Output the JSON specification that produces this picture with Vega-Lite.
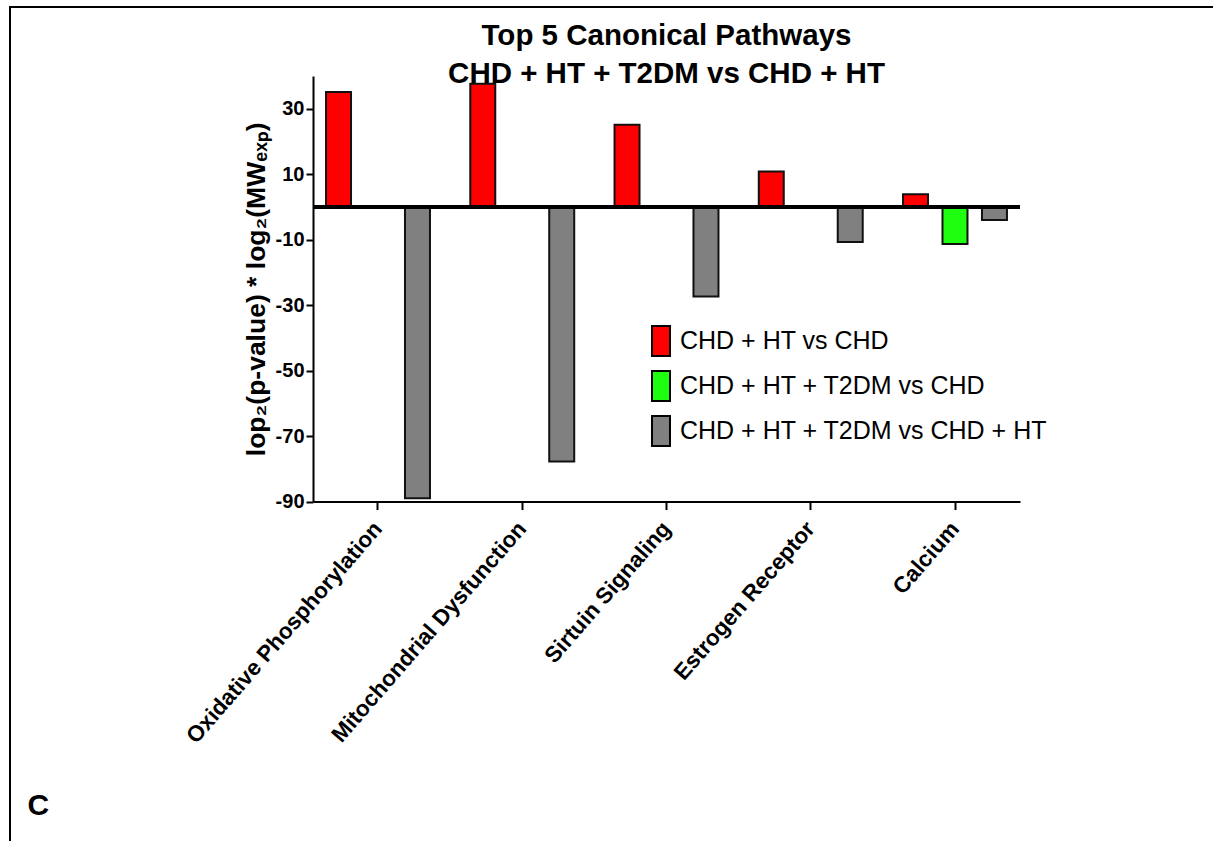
{
  "$schema": "https://vega.github.io/schema/vega-lite/v6.json",
  "width": 1203,
  "height": 834,
  "autosize": {"type": "none"},
  "padding": {"left": 10, "top": 7, "right": 0, "bottom": 0},
  "background": "white",
  "config": {
    "font": "Liberation Sans",
    "view": {"stroke": "black", "strokeWidth": 2, "strokeDash": [1203, 2037, 834]}
  },
  "title": {
    "text": ["Top 5 Canonical Pathways", "CHD + HT + T2DM vs CHD + HT"],
    "font": "Liberation Sans",
    "fontSize": 29.5,
    "fontWeight": "bold",
    "color": "black",
    "anchor": "middle",
    "frame": "group",
    "lineHeight": 38,
    "baseline": "top",
    "offset": 0,
    "dx": 55,
    "dy": 82
  },
  "data": {
    "values": [
      {"pathway": "Oxidative Phosphorylation", "comparison": "CHD + HT vs CHD", "score": 35.1},
      {"pathway": "Oxidative Phosphorylation", "comparison": "CHD + HT + T2DM vs CHD + HT", "score": -89.0},
      {"pathway": "Mitochondrial Dysfunction", "comparison": "CHD + HT vs CHD", "score": 37.6},
      {"pathway": "Mitochondrial Dysfunction", "comparison": "CHD + HT + T2DM vs CHD + HT", "score": -77.8},
      {"pathway": "Sirtuin Signaling", "comparison": "CHD + HT vs CHD", "score": 25.1},
      {"pathway": "Sirtuin Signaling", "comparison": "CHD + HT + T2DM vs CHD + HT", "score": -27.4},
      {"pathway": "Estrogen Receptor", "comparison": "CHD + HT vs CHD", "score": 10.8},
      {"pathway": "Estrogen Receptor", "comparison": "CHD + HT + T2DM vs CHD + HT", "score": -10.7},
      {"pathway": "Calcium", "comparison": "CHD + HT vs CHD", "score": 3.9},
      {"pathway": "Calcium", "comparison": "CHD + HT + T2DM vs CHD", "score": -11.3},
      {"pathway": "Calcium", "comparison": "CHD + HT + T2DM vs CHD + HT", "score": -4.0}
    ]
  },
  "layer": [
    {
      "mark": {"type": "bar", "stroke": "#111111", "strokeWidth": 2},
      "encoding": {
        "x": {
          "field": "pathway",
          "type": "nominal",
          "sort": ["Oxidative Phosphorylation", "Mitochondrial Dysfunction", "Sirtuin Signaling", "Estrogen Receptor", "Calcium"],
          "scale": {"range": [303, 1010], "paddingInner": 0.0988, "paddingOuter": 0},
          "axis": {
            "title": "C",
            "titleX": 17,
            "titleY": 313,
            "titleAlign": "left",
            "titleBaseline": "alphabetic",
            "titleAnchor": null,
            "titleFont": "Liberation Sans",
            "titleFontSize": 30,
            "titleFontWeight": "bold",
            "titleColor": "black",
            "labelAngle": -49,
            "labelAlign": "right",
            "labelBaseline": "middle",
            "labelFont": "Liberation Sans",
            "labelFontSize": 22.5,
            "labelFontWeight": "bold",
            "labelColor": "black",
            "labelPadding": 15,
            "labelLimit": 0,
            "tickSize": 8,
            "tickWidth": 2,
            "tickColor": "black",
            "domainWidth": 2,
            "domainColor": "black",
            "grid": false,
            "offset": -339.5
          }
        },
        "xOffset": {
          "field": "comparison",
          "type": "nominal",
          "scale": {
            "domain": ["CHD + HT vs CHD", "CHD + HT + T2DM vs CHD", "CHD + HT + T2DM vs CHD + HT"],
            "paddingInner": 0.367,
            "paddingOuter": 0.33
          }
        },
        "y": {
          "field": "score",
          "type": "quantitative",
          "scale": {"domain": [-90, 40], "range": [494.5, 69], "nice": false, "zero": false},
          "axis": {
            "title": "lop₂(p-value) * log₂(MWₑₓₚ)",
            "titleFont": "Liberation Sans",
            "titleFontSize": 26.5,
            "titleFontWeight": "bold",
            "titleColor": "black",
            "titlePadding": 5,
            "values": [-90, -70, -50, -30, -10, 10, 30],
            "labelExpr": "'' + datum.value",
            "labelFont": "Liberation Sans",
            "labelFontSize": 20,
            "labelFontWeight": "bold",
            "labelColor": "black",
            "labelPadding": 2,
            "tickSize": 7,
            "tickWidth": 2,
            "tickColor": "black",
            "domainWidth": 2,
            "domainColor": "black",
            "grid": false,
            "offset": -303
          }
        },
        "color": {
          "field": "comparison",
          "type": "nominal",
          "scale": {
            "domain": ["CHD + HT vs CHD", "CHD + HT + T2DM vs CHD", "CHD + HT + T2DM vs CHD + HT"],
            "range": ["#ff0000", "#1eff10", "#808080"]
          },
          "legend": {
            "orient": "none",
            "legendX": 635,
            "legendY": 318,
            "title": null,
            "padding": 0,
            "symbolType": "M-0.6,-1H0.6V1H-0.6Z",
            "symbolSize": 900,
            "symbolStrokeColor": "black",
            "symbolStrokeWidth": 2,
            "symbolOpacity": 1,
            "labelFont": "Liberation Sans",
            "labelFontSize": 25,
            "labelColor": "black",
            "labelOffset": 3,
            "labelLimit": 0,
            "rowPadding": 7
          }
        }
      }
    },
    {
      "mark": {"type": "rule", "color": "black", "strokeWidth": 3},
      "encoding": {
        "y": {"datum": 0},
        "x": {"datum": "Oxidative Phosphorylation", "bandPosition": 0},
        "x2": {"datum": "Calcium", "bandPosition": 1}
      }
    }
  ]
}
